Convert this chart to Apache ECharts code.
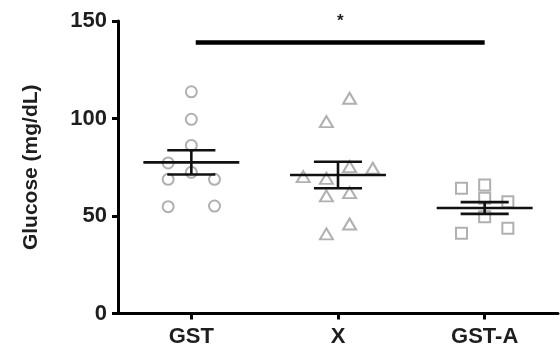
<!DOCTYPE html>
<html>
<head>
<meta charset="utf-8">
<script src="https://cdn.jsdelivr.net/npm/echarts@6/dist/echarts.min.js"></script>
<style>html,body{margin:0;padding:0;background:#fff;}#c{width:560px;height:352px;}</style>
</head>
<body>
<div id="c"></div>
<script>
// ---- data ----
var categories = ['GST', 'X', 'GST-A'];
var yTicks = [0, 50, 100, 150];
// individual glucose values (mg/dL) and their dot-plot column slot
var gstValues  = [113.7, 99.6, 86.2, 77.2, 72.4, 68.8, 68.8, 54.8, 55.1];
var gstSlots   = [0, 0, 0, -1, 0, -1, 1, -1, 1];
var xValues    = [110.4, 98.4, 70.2, 69.3, 75.3, 74.5, 60.3, 62.0, 40.8, 45.9];
var xSlots     = [0.5, -0.5, -1.5, -0.5, 0.5, 1.5, -0.5, 0.5, -0.5, 0.5];
var gstaValues = [64.2, 65.9, 59.1, 57.3, 49.6, 41.1, 43.7];
var gstaSlots  = [-1, 0, 0, 1, 0, -1, 1];
// mean and SEM per group
var means = [77.5, 71.0, 54.1];
var sems  = [6.2, 6.8, 3.0];
// significance annotation: [fromGroup, toGroup, yLevel, label]
var sigBars = [[0, 2, 139, '*']];

// ---- layout ----
var SLOT_STEP = 0.158;
function pts(vals, slots, gi) {
  return vals.map(function (v, i) { return [gi + slots[i] * SLOT_STEP, v]; });
}
var symStyle = { color: 'rgba(0,0,0,0)', borderColor: '#9c9c9c', borderWidth: 2 };
var labelFont = { fontFamily: 'Liberation Sans, Arial, sans-serif', fontWeight: 'bold', color: '#1e1e1e' };

var chart = echarts.init(document.getElementById('c'), null, { renderer: 'canvas' });
chart.setOption({
  animation: false,
  backgroundColor: '#ffffff',
  grid: { left: 118, right: 2, top: 21, bottom: 38.5, containLabel: false },
  xAxis: [{
    type: 'category', data: categories, boundaryGap: true,
    axisLine: { show: true, onZero: false, lineStyle: { color: '#000', width: 3 } },
    axisTick: { show: true, alignWithLabel: true, length: 6, lineStyle: { color: '#000', width: 3 } },
    axisLabel: Object.assign({ fontSize: 22, margin: 12 }, labelFont),
    splitLine: { show: false }
  }, {
    type: 'value', min: -0.5, max: 2.5, show: false
  }],
  yAxis: {
    type: 'value', min: 0, max: 150, interval: 50,
    name: 'Glucose (mg/dL)', nameLocation: 'middle', nameGap: 76,
    nameTextStyle: { fontFamily: 'Liberation Sans, Arial, sans-serif', fontWeight: 'bold', fontSize: 21, color: '#1e1e1e' },
    axisLine: { show: true, onZero: false, lineStyle: { color: '#000', width: 3 } },
    axisTick: { show: true, length: 6, lineStyle: { color: '#000', width: 3 } },
    axisLabel: Object.assign({ fontSize: 22, margin: 11, formatter: function (v) { return yTicks.indexOf(v) >= 0 ? String(v) : ''; } }, labelFont),
    splitLine: { show: false }
  },
  series: [
    { type: 'scatter', xAxisIndex: 1, symbol: 'circle', symbolSize: 11, itemStyle: symStyle,
      data: pts(gstValues, gstSlots, 0), z: 2,
      markLine: {
        silent: true, symbol: 'none',
        lineStyle: { color: '#000', width: 4.5, type: 'solid' },
        label: { show: true, position: 'middle', distance: 13, formatter: function (p) { return p.name; },
                 fontSize: 17, fontWeight: 'bold', color: '#1e1e1e', fontFamily: 'Liberation Sans, Arial, sans-serif' },
        data: sigBars.map(function (b) { return [{ coord: [b[0] + 0.03, b[2]], name: b[3] }, { coord: [b[1], b[2]] }]; })
      }
    },
    { type: 'scatter', xAxisIndex: 1, symbol: 'triangle', symbolSize: [13, 11], itemStyle: symStyle,
      data: pts(xValues, xSlots, 1), z: 2 },
    { type: 'scatter', xAxisIndex: 1, symbol: 'rect', symbolSize: 11, itemStyle: symStyle,
      data: pts(gstaValues, gstaSlots, 2), z: 2 },
    { type: 'custom', xAxisIndex: 1, z: 5,
      data: means.map(function (m, i) { return [i, m, sems[i]]; }),
      renderItem: function (params, api) {
        var x = api.value(0), m = api.value(1), s = api.value(2);
        var c = api.coord([x, m]);
        var t = api.coord([x, m + s]);
        var b = api.coord([x, m - s]);
        var bw = api.size([1, 0])[0];
        var hw = bw * 0.327, cw = bw * 0.164;
        var st = { stroke: '#111', lineWidth: 2.6 };
        return { type: 'group', children: [
          { type: 'line', shape: { x1: c[0] - hw, y1: c[1], x2: c[0] + hw, y2: c[1] }, style: st },
          { type: 'line', shape: { x1: c[0] - cw, y1: t[1], x2: c[0] + cw, y2: t[1] }, style: st },
          { type: 'line', shape: { x1: c[0] - cw, y1: b[1], x2: c[0] + cw, y2: b[1] }, style: st },
          { type: 'line', shape: { x1: c[0], y1: t[1], x2: c[0], y2: b[1] }, style: st }
        ] };
      }
    }
  ]
});
</script>
</body>
</html>
